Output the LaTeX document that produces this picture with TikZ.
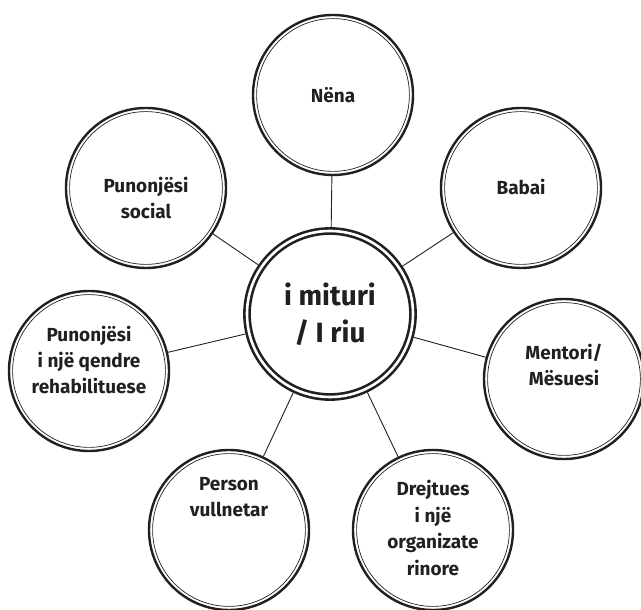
\documentclass[tikz,border=0pt]{standalone}
\usepackage{fontspec}
\setmainfont{Fira Sans}
\definecolor{ink}{HTML}{231F20}

\begin{document}
\begin{tikzpicture}[x=1bp,y=1bp,
	ring/.style={circle,draw=ink,line width=2.4bp,minimum size=160bp,inner sep=0pt},
	hub/.style={circle,draw=ink,line width=2.6bp,double=white,double distance=2.6bp,minimum size=166bp,inner sep=0pt,outer sep=3.9bp},
	txt/.style={font=\bfseries\fontsize{19}{26.5}\selectfont,text=ink,align=center},
	hubtxt/.style={font=\bfseries\fontsize{28}{37}\selectfont,text=ink,align=center},
	link/.style={draw=ink,line width=0.9bp}]
	\useasboundingbox (0,0) rectangle (641,610);
	\node[hub] (kid) at (330,296) {};
	\node[ring] (nena) at (333,515) {};
	\node[ring] (babai) at (521,422) {};
	\node[ring] (social) at (146,422) {};
	\node[ring] (qendra) at (89,239) {};
	\node[ring] (mentori) at (564,231) {};
	\node[ring] (drejtues) at (433,80) {};
	\node[ring] (person) at (229,80) {};
	\foreach \n in {nena,babai,social,qendra,mentori,drejtues,person}
		\draw[ink,line width=0.7bp] (\n.center) circle[radius=76.4bp];
	\foreach \n in {nena,babai,social,qendra,mentori,drejtues,person}
		\draw[link] (kid) -- (\n);
	\node[hubtxt] (kidtxt) at (kid.center) {i mituri\\/ I riu};
	\node[txt] (nenatxt) at (nena.center) {Nëna};
	\node[txt] (babaitxt) at ([yshift=1bp]babai.center) {Babai};
	\node[txt] (socialtxt) at ([yshift=-10bp]social.center) {Punonjësi\\social};
	\node[txt] (qendratxt) at ([yshift=11bp]qendra.center) {Punonjësi\\i një qendre\\rehabilituese};
	\node[txt] (mentoritxt) at ([yshift=14bp]mentori.center) {Mentori/\\Mësuesi};
	\node[txt] (drejtuestxt) at ([yshift=2bp]drejtues.center) {Drejtues\\i një\\organizate\\rinore};
	\node[txt] (persontxt) at ([yshift=33bp]person.center) {Person\\vullnetar};
\end{tikzpicture}
\end{document}
